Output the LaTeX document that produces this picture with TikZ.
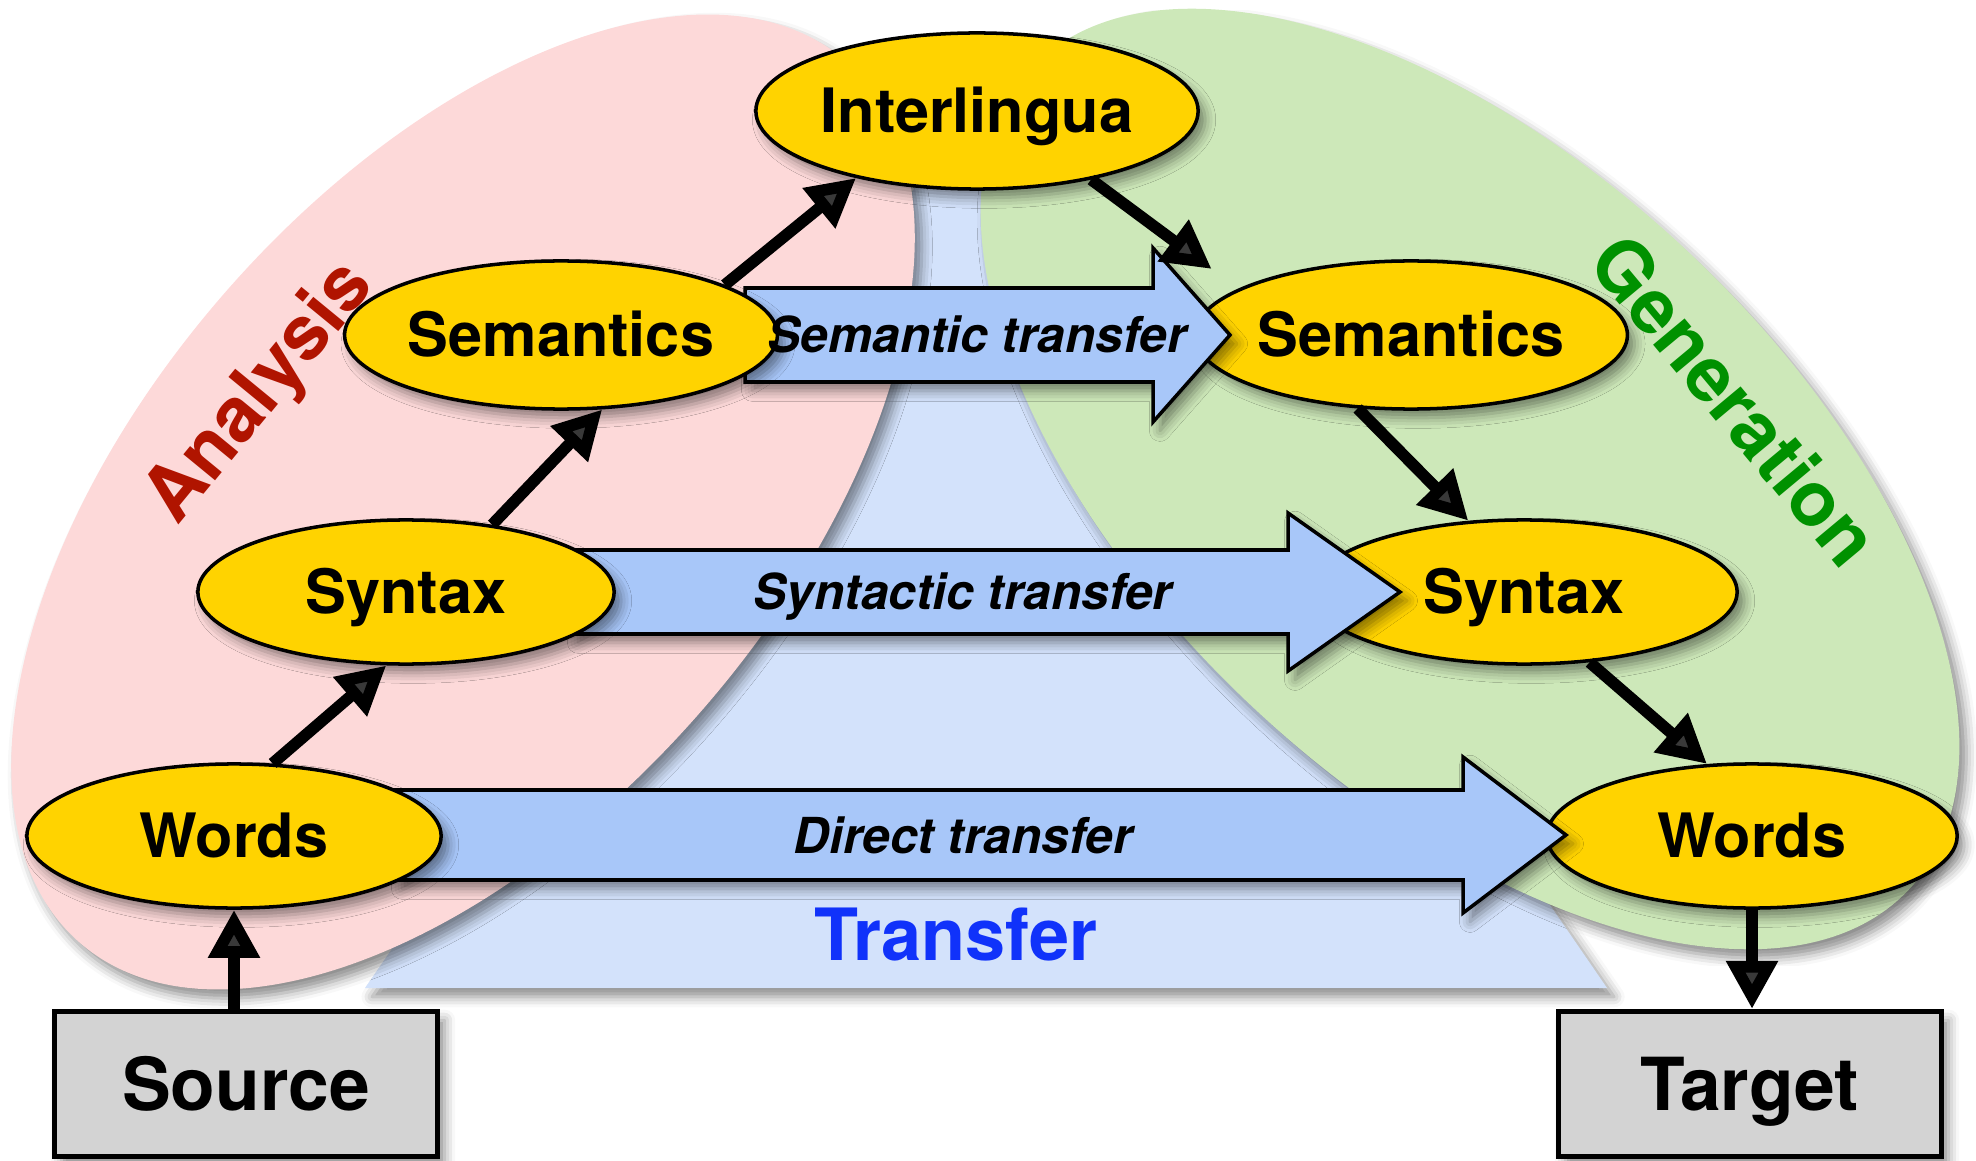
\documentclass[tikz,border=0pt]{standalone}
\usepackage{fontspec}
\setmainfont{TeX Gyre Heros}
\usetikzlibrary{shapes.geometric,arrows.meta,shadows.blur}
\definecolor{pinkbg}{RGB}{253,217,217}
\definecolor{greenbg}{RGB}{205,232,185}
\definecolor{tribg}{RGB}{211,226,251}
\definecolor{arrowbg}{RGB}{168,199,249}
\definecolor{nodeyellow}{RGB}{255,211,0}
\definecolor{boxgray}{RGB}{211,211,211}
\definecolor{analysisred}{RGB}{176,20,0}
\definecolor{generationgreen}{RGB}{0,145,0}
\definecolor{transferblue}{RGB}{16,50,250}
\tikzset{
  softshadow/.style={blur shadow={shadow xshift=2pt, shadow yshift=-2.5pt, shadow blur radius=3pt, shadow opacity=45}},
  level/.style={ellipse, draw=black, line width=1pt, fill=nodeyellow, inner sep=0pt,
    text height=12.5pt, text depth=0pt,
    font=\fontsize{17.4}{20}\selectfont\bfseries, softshadow},
  endbox/.style={rectangle, draw=black, line width=1.4pt, fill=boxgray, inner sep=0pt,
    text height=15pt, text depth=0pt,
    minimum width=3.83cm, minimum height=1.45cm, font=\fontsize{20.8}{24}\selectfont\bfseries, softshadow},
  blockarrow/.style={draw=black, line width=1pt, fill=arrowbg, line join=miter, softshadow},
  arrowlabel/.style={font=\fontsize{14.1}{17}\selectfont\bfseries\itshape, inner sep=0pt,
    text height=10.2pt, text depth=0pt},
  regionlabel/.style={font=\fontsize{21.6}{26}\selectfont\bfseries, inner sep=0pt},
  flow/.style={line width=3.3pt, -{Triangle[length=0.48cm, width=0.49cm]}},
}
\begin{document}
\begin{tikzpicture}[x=0.01cm, y=-0.01cm]
\useasboundingbox (0,0) rectangle (1976,1161);
% transfer triangle
\path[fill=tribg, softshadow] (986,84) -- (1607,988) -- (365,988) -- cycle;
% analysis / generation regions
\path[fill=pinkbg, softshadow, rotate around={49:(463,502)}] (463,502) ellipse [x radius=584, y radius=317];
\path[fill=greenbg, softshadow, rotate around={-43:(1470,479)}] (1470,479) ellipse [x radius=601, y radius=315];
% region labels
\node[regionlabel, text=analysisred, rotate=50.6] (analysis) at (261,394) {Analysis};
\node[regionlabel, text=generationgreen, rotate=-50.2] (generation) at (1735,400) {Generation};
\node[font=\fontsize{20.5}{24}\selectfont\bfseries, text=transferblue, inner sep=0pt] (transfer) at (956,935) {Transfer};
% top and target-side nodes
\node[level, minimum width=4.42cm, minimum height=1.56cm] (inter) at (977,111) {Interlingua};
\node[level, minimum width=4.24cm, minimum height=1.48cm] (semR) at (1411,335) {Semantics};
\node[level, minimum width=4.26cm, minimum height=1.44cm] (synR) at (1524,592) {Syntax};
\node[level, minimum width=4.10cm, minimum height=1.44cm] (wordsR) at (1752,836) {Words};
% transfer block arrows
\path[blockarrow] (745,288) -- (1153,288) -- (1153,248) -- (1230,335) -- (1153,422) -- (1153,382) -- (745,382) -- cycle;
\path[blockarrow] (571,550) -- (1288,550) -- (1288,513) -- (1400,592) -- (1288,671) -- (1288,634) -- (571,634) -- cycle;
\path[blockarrow] (395,790) -- (1463,790) -- (1463,757) -- (1566,835) -- (1463,913) -- (1463,880) -- (395,880) -- cycle;
% source-side nodes
\node[level, minimum width=4.28cm, minimum height=1.48cm] (semL) at (561,335) {Semantics};
\node[level, minimum width=4.16cm, minimum height=1.44cm] (synL) at (406,592) {Syntax};
\node[level, minimum width=4.14cm, minimum height=1.44cm] (wordsL) at (234,836) {Words};
% end boxes
\node[endbox] (source) at (246,1084) {Source};
\node[endbox] (target) at (1750,1084) {Target};
% transfer labels
\node[arrowlabel] (semT) at (977,335) {Semantic transfer};
\node[arrowlabel] (synT) at (963,592) {Syntactic transfer};
\node[arrowlabel] (dirT) at (963,836) {Direct transfer};
% flow arrows
\draw[flow] (wordsL.62.5) -- (synL.255.4);
\draw[flow] (synL.38) -- (semL.-61.5);
\draw[flow] (semL.17.7) -- (inter.209.6);
\draw[flow, shorten >=0.33cm] (inter.-31.6) -- (semR.165);
\draw[flow] (semR.234) -- (synR.128.3);
\draw[flow] (synR.-47.6) -- (wordsR.122.8);
\draw[flow] (wordsR.south) -- (wordsR.south |- target.north);
\draw[flow] (source.north -| wordsL.south) -- (wordsL.south);
\end{tikzpicture}
\end{document}
